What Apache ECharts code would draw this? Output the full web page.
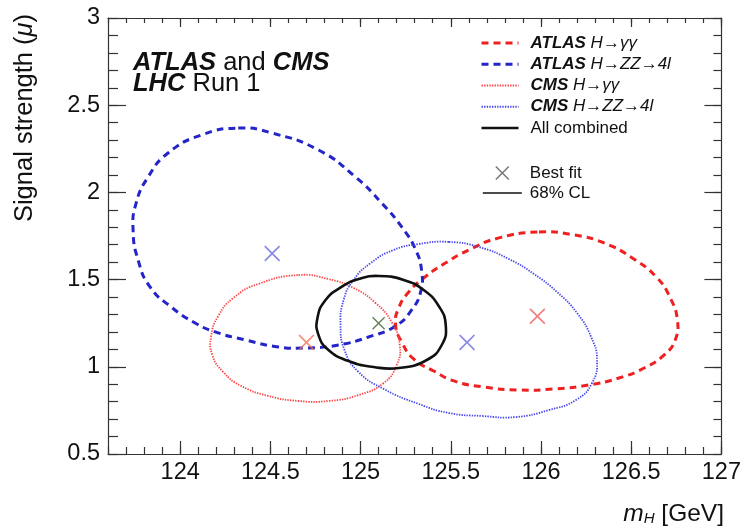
<!DOCTYPE html>
<html><head><meta charset="utf-8">
<script src="https://cdn.jsdelivr.net/npm/echarts@6/dist/echarts.min.js"></script>
<style>html,body{margin:0;padding:0;background:#fff}#c{width:744px;height:528px}</style>
</head><body><div id="c"></div>
<script>
const FONT = '"Liberation Sans", Arial, Helvetica, sans-serif';

// ---- data ----
const seriesNames = ['ATLAS H→γγ', 'ATLAS H→ZZ→4l', 'CMS H→γγ', 'CMS H→ZZ→4l', 'All combined'];

const atlasGGx = [125.989,126.183,126.350,126.506,126.639,126.717,126.756,126.744,126.683,126.572,126.433,126.267,126.072,125.878,125.683,125.517,125.406,125.294,125.228,125.194,125.211,125.267,125.350,125.461,125.600,125.767];
const atlasGGy = [1.773,1.756,1.710,1.624,1.515,1.394,1.268,1.154,1.068,0.993,0.936,0.896,0.873,0.867,0.884,0.919,0.976,1.045,1.142,1.240,1.337,1.429,1.509,1.589,1.670,1.739];

const atlasZZx = [124.322,124.506,124.767,124.972,125.117,125.228,125.306,125.339,125.333,125.283,125.194,125.044,124.878,124.694,124.544,124.361,124.194,124.083,123.950,123.833,123.767,123.739,123.756,123.822,123.933,124.117];
const atlasZZy = [2.369,2.341,2.243,2.088,1.939,1.802,1.670,1.544,1.429,1.326,1.234,1.171,1.125,1.108,1.114,1.154,1.200,1.251,1.343,1.458,1.612,1.784,1.939,2.088,2.226,2.329];

const cmsGGx = [124.656,124.822,124.961,125.083,125.172,125.217,125.200,125.128,124.989,124.822,124.656,124.489,124.339,124.239,124.178,124.172,124.211,124.294,124.433];
const cmsGGy = [1.526,1.503,1.452,1.366,1.257,1.125,1.010,0.907,0.838,0.804,0.804,0.833,0.890,0.970,1.068,1.177,1.291,1.394,1.475];

const cmsZZx = [125.489,125.656,125.822,125.961,126.089,126.200,126.278,126.311,126.283,126.194,126.044,125.861,125.672,125.489,125.322,125.128,124.989,124.911,124.889,124.906,124.961,125.056,125.183,125.322];
const cmsZZy = [1.716,1.687,1.618,1.532,1.429,1.308,1.171,1.039,0.907,0.810,0.752,0.712,0.718,0.735,0.787,0.873,0.970,1.096,1.240,1.383,1.498,1.595,1.670,1.704];

const combX = [125.100,125.239,125.350,125.433,125.472,125.450,125.367,125.211,125.072,124.933,124.822,124.767,124.761,124.806,124.894,124.989];
const combY = [1.521,1.498,1.440,1.349,1.240,1.125,1.039,0.993,0.999,1.033,1.096,1.182,1.280,1.383,1.458,1.503];

const bestFitX = [125.98, 124.51, 124.70, 125.59, 125.10];
const bestFitY = [1.29, 1.65, 1.14, 1.14, 1.25];

const xTickLabels = [124, 124.5, 125, 125.5, 126, 126.5, 127];
const yTickLabels = [0.5, 1, 1.5, 2, 2.5, 3];
const xRange = [123.6, 127];
const yRange = [0.5, 3];

// ---- styles ----
const lineStyles = [
  {color: '#ee2020', width: 3, type: [7, 5]},
  {color: '#2424c8', width: 3, type: [7, 5]},
  {color: '#ff4646', width: 1.8, type: [1.4, 1.2]},
  {color: '#4848ee', width: 1.8, type: [1.4, 1.2]},
  {color: '#111111', width: 2.6, type: 'solid'}
];
const markerColors = ['#ee6060', '#6a6ae0', '#f07050', '#6a6ae0', '#3f5f2a'];
const markerSizes = [16, 16, 16, 16, 13];
const XSYM = 'path://M1.5,0L10,8.5L18.5,0L20,1.5L11.5,10L20,18.5L18.5,20L10,11.5L1.5,20L0,18.5L8.5,10L0,1.5Z';

const contourX = [atlasGGx, atlasZZx, cmsGGx, cmsZZx, combX];
const contourY = [atlasGGy, atlasZZy, cmsGGy, cmsZZy, combY];

const series = [];
// legend carriers (line icons with the proper dash)
seriesNames.forEach((name, i) => series.push({
  name, type: 'line', symbol: 'none', data: [],
  lineStyle: lineStyles[i], itemStyle: {color: lineStyles[i].color}
}));
// closed smooth contours drawn through the cartesian scales
seriesNames.forEach((name, i) => {
  const ls = lineStyles[i];
  series.push({
    name, type: 'custom', coordinateSystem: 'cartesian2d', xAxisIndex: 0, yAxisIndex: 0,
    data: contourX[i].map((x, j) => [x, contourY[i][j]]),
    encode: {x: 0, y: 1},
    z: i === 4 ? 5 : 3, silent: true, animation: false,
    renderItem: (params, api) => {
      if (params.dataIndex !== 0) return null;
      const pts = contourX[i].map((x, j) => api.coord([x, contourY[i][j]]));
      return {
        type: 'polygon', shape: {points: pts, smooth: 0.5, smoothConstraint: false},
        style: {fill: 'none', stroke: ls.color, lineWidth: ls.width,
                lineDash: Array.isArray(ls.type) ? ls.type : null}
      };
    }
  });
});
series.push({
  name: 'Best fit', type: 'scatter', symbol: XSYM, symbolKeepAspect: true,
  itemStyle: {color: '#555'},
  data: bestFitX.map((x, i) => ({value: [x, bestFitY[i]], symbolSize: markerSizes[i], itemStyle: {color: markerColors[i]}})),
  z: 6, animation: false
});
series.push({
  name: '68% CL', type: 'line', symbol: 'none', data: [],
  lineStyle: {color: '#111', width: 1.6}, itemStyle: {color: '#111'}
});

const tickColor = '#333';
function xAx(pos, ticks, len, labels, line) {
  const ax = {
    type: 'value', position: pos, min: xRange[0], max: xRange[1],
    axisLine: {show: line, lineStyle: {color: tickColor, width: 1.2}},
    splitLine: {show: false},
    axisTick: {show: true, inside: true, length: len, lineStyle: {color: tickColor, width: 1.2}},
    axisLabel: {show: labels, fontFamily: FONT, fontSize: 23.5, color: '#111', margin: 7,
      formatter: v => String(v)}
  };
  if (ticks === 'major') { ax.axisTick.customValues = xTickLabels; ax.axisLabel.customValues = xTickLabels; }
  else { ax.interval = 0.1; }
  return ax;
}
function yAx(pos, minor, len, labels, line) {
  return {
    type: 'value', position: pos, min: yRange[0], max: yRange[1], interval: minor ? 0.1 : 0.5,
    axisLine: {show: line, lineStyle: {color: tickColor, width: 1.2}},
    splitLine: {show: false},
    axisTick: {show: true, inside: true, length: len, lineStyle: {color: tickColor, width: 1.2}},
    axisLabel: {show: labels, fontFamily: FONT, fontSize: 23.5, color: '#111', margin: 8,
      formatter: v => String(v)}
  };
}

const richLegend = {
  b: {fontFamily: FONT, fontSize: 17, fontWeight: 'bold', fontStyle: 'italic', color: '#111'},
  i: {fontFamily: FONT, fontSize: 17, fontStyle: 'italic', color: '#111'},
  n: {fontFamily: FONT, fontSize: 17, color: '#111'}
};
function legendFmt(name) {
  const k = name.indexOf(' ');
  const head = name.slice(0, k);
  if (head === 'ATLAS' || head === 'CMS') return '{b|' + head + '}{n| }{i|' + name.slice(k + 1) + '}';
  return '{n|' + name + '}';
}

const option = {
  backgroundColor: '#fff',
  animation: false,
  grid: {left: 108, right: 22, top: 18, bottom: 74},
  xAxis: [
    xAx('bottom', 'major', 13, true, true),
    xAx('bottom', 'minor', 7, false, false),
    xAx('top', 'major', 9, false, true),
    xAx('top', 'minor', 5, false, false)
  ],
  yAxis: [
    yAx('left', false, 18, true, true),
    yAx('left', true, 10, false, false),
    yAx('right', false, 17, false, true),
    yAx('right', true, 8, false, false)
  ],
  legend: [
    {data: seriesNames.map((n, i) => ({name: n, itemStyle: {opacity: 0},
       lineStyle: {color: lineStyles[i].color, width: lineStyles[i].width, type: lineStyles[i].type}})),
     orient: 'vertical', left: 480, top: 34.5, padding: 0, itemWidth: 37, itemHeight: 14, itemGap: 4.25,
     selectedMode: false, formatter: legendFmt,
     textStyle: {fontFamily: FONT, fontSize: 17, color: '#111', padding: [0, 0, 0, 7], rich: richLegend}},
    {data: [{name: 'Best fit'}, {name: '68% CL', itemStyle: {opacity: 0}, lineStyle: {color: '#111', width: 1.6, type: 'solid'}}],
     orient: 'vertical', left: 482, top: 164.5, padding: 0, itemWidth: 39, itemHeight: 14, itemGap: 3,
     selectedMode: false,
     textStyle: {fontFamily: FONT, fontSize: 17, color: '#111', padding: [0, 0, 0, 3]}}
  ],
  graphic: [
    {type: 'text', x: 133, y: 50, z: 10, style: {
      text: '{bi|ATLAS}{n| and }{bi|CMS}', align: 'left', verticalAlign: 'top',
      rich: {
        bi: {fontFamily: FONT, fontSize: 25.5, fontWeight: 'bold', fontStyle: 'italic', fill: '#111'},
        n: {fontFamily: FONT, fontSize: 25.5, fill: '#111'}
      }}},
    {type: 'text', x: 133, y: 71, z: 10, style: {
      text: '{bi|LHC}{n| Run 1}', align: 'left', verticalAlign: 'top',
      rich: {
        bi: {fontFamily: FONT, fontSize: 25.5, fontWeight: 'bold', fontStyle: 'italic', fill: '#111'},
        n: {fontFamily: FONT, fontSize: 25.5, fill: '#111'}
      }}},
    {type: 'text', x: 25, y: 118, rotation: Math.PI / 2, z: 10, style: {
      text: '{n|Signal strength (}{i|μ}{n|)}', align: 'center', verticalAlign: 'middle',
      rich: {
        n: {fontFamily: FONT, fontSize: 25.5, fill: '#111'},
        i: {fontFamily: FONT, fontSize: 25.5, fontStyle: 'italic', fill: '#111'}
      }}},
    {type: 'text', x: 724, y: 502, z: 10, style: {
      text: '{i|m}{s|H}{n| [GeV]}', align: 'right', verticalAlign: 'top',
      rich: {
        i: {fontFamily: FONT, fontSize: 24.5, fontStyle: 'italic', fill: '#111', lineHeight: 24, verticalAlign: 'top'},
        s: {fontFamily: FONT, fontSize: 15, fontStyle: 'italic', fill: '#111', lineHeight: 14, verticalAlign: 'bottom', padding: [12, 0, 0, 0]},
        n: {fontFamily: FONT, fontSize: 24.5, fill: '#111', lineHeight: 24, verticalAlign: 'top'}
      }}}
  ],
  series
};

const chart = echarts.init(document.getElementById('c'), null, {renderer: 'canvas'});
chart.setOption(option);
</script>
</body></html>
